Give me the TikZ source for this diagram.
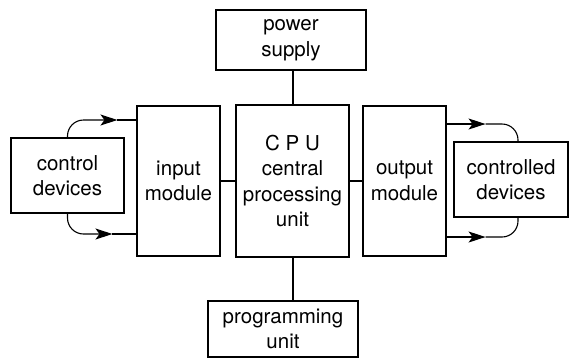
\documentclass[tikz,border=0pt]{standalone}
\usepackage{fontspec}
\setmainfont{TeX Gyre Heros}
\usepackage{tikz}
\usetikzlibrary{arrows.meta,positioning}

\begin{document}
\begin{tikzpicture}[
x=1pt,y=-1pt,
unit/.style={draw,line width=1.1pt,align=center,inner sep=0pt,font=\fontsize{20.5}{25.5}\selectfont},
link/.style={line width=2pt},
flow/.style={line width=1.1pt,rounded corners=16pt},
tip/.style={-{Stealth[length=17pt,width=11pt,inset=4pt]}}
]
\useasboundingbox (0,0) rectangle (570,360);
\node[unit,minimum width=113pt,minimum height=75pt] (ctrl) at (67.5,175.5) {control\\devices};
\node[unit,minimum width=83pt,minimum height=150pt] (input) at (178.5,181) {input\\module};
\node[unit,minimum width=113pt,minimum height=152pt] (cpu) at (292.5,181) {C P U\\central\\processing\\unit};
\node[unit,minimum width=83pt,minimum height=150pt] (output) at (404.5,181) {output\\module};
\node[unit,minimum width=114pt,minimum height=75pt] (ctrld) at (511,179.5) {controlled\\devices};
\node[unit,minimum width=150pt,minimum height=60pt] (power) at (291,40) {power\\supply};
\node[unit,minimum width=150pt,minimum height=56pt] (prog) at (283,329) {programming\\unit};
% links to the CPU
\draw[link] (input) -- (cpu);
\draw[link] (cpu) -- (output);
\draw[link] (power.south -| cpu.north) -- (cpu.north);
\draw[link] (cpu.south) -- (cpu.south |- prog.north);
% signal paths, arrow tips half way
\coordinate (inA) at ([xshift=-19pt,yshift=61pt]input.west);
\coordinate (inB) at ([xshift=-24pt,yshift=-53pt]input.west);
\coordinate (outA) at ([xshift=39pt,yshift=57pt]output.east);
\coordinate (outB) at ([xshift=39pt,yshift=-56pt]output.east);
\draw[flow,tip] (ctrl.north) |- (inA);
\draw[flow] (inA) -- (inA -| input.west);
\draw[flow,tip] (ctrl.south) |- (inB);
\draw[flow] (inB) -- (inB -| input.west);
\draw[flow,tip] (outA -| output.east) -- (outA);
\draw[flow] (outA) -| ([xshift=7pt]ctrld.north);
\draw[flow,tip] (outB -| output.east) -- (outB);
\draw[flow] (outB) -| ([xshift=7pt]ctrld.south);
\end{tikzpicture}
\end{document}
